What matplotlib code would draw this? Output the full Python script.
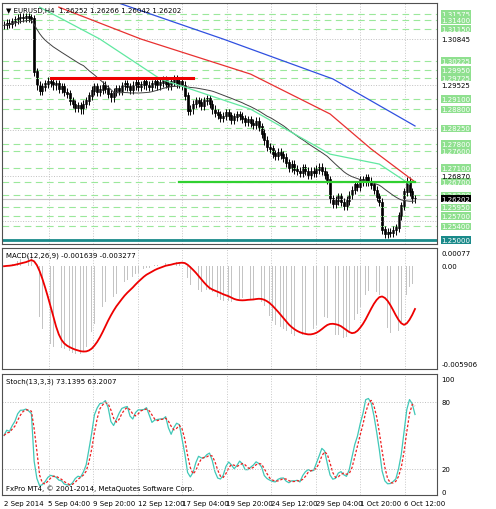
import matplotlib.pyplot as plt
import numpy as np
import pandas as pd

# H4 closes, EURUSD
closes = [1.3125, 1.3130, 1.3128, 1.3135, 1.3140, 1.3145, 1.3148, 1.3146, 1.3150, 1.3147, 1.3144,
          1.2990, 1.2950, 1.2935, 1.2945, 1.2955, 1.2962, 1.2958, 1.2950, 1.2955, 1.2940, 1.2945, 1.2930, 1.2925,
          1.2905, 1.2895, 1.2885, 1.2890, 1.2880, 1.2895, 1.2905,
          1.2920, 1.2935, 1.2945, 1.2930, 1.2938, 1.2950, 1.2940, 1.2925, 1.2915, 1.2930,
          1.2940, 1.2935, 1.2948, 1.2955, 1.2945, 1.2938, 1.2950, 1.2958, 1.2945, 1.2952, 1.2960, 1.2950,
          1.2945, 1.2955, 1.2962, 1.2950, 1.2958, 1.2965, 1.2955, 1.2948, 1.2960, 1.2968, 1.2955, 1.2960, 1.2950,
          1.2920, 1.2875,
          1.2880, 1.2895, 1.2905, 1.2900, 1.2890, 1.2905, 1.2910, 1.2895, 1.2880, 1.2870, 1.2865, 1.2855, 1.2860,
          1.2870, 1.2862, 1.2850, 1.2858, 1.2865, 1.2860, 1.2852, 1.2845, 1.2850, 1.2840, 1.2835, 1.2845, 1.2830, 1.2810,
          1.2790, 1.2770, 1.2765, 1.2750, 1.2745, 1.2755, 1.2748,
          1.2740, 1.2725, 1.2710, 1.2720, 1.2705, 1.2700, 1.2695, 1.2710, 1.2700, 1.2690,
          1.2700, 1.2695, 1.2705, 1.2712, 1.2700, 1.2690, 1.2675,
          1.2620, 1.2605, 1.2615, 1.2625, 1.2610, 1.2600, 1.2615, 1.2630,
          1.2645, 1.2660, 1.2655, 1.2675, 1.2668, 1.2680, 1.2670, 1.2660,
          1.2645, 1.2625, 1.2610, 1.2530,
          1.2518, 1.2522, 1.2520, 1.2528, 1.2535, 1.2570,
          1.2600, 1.2640, 1.2670, 1.2640, 1.2620, 1.26202]

# long moving averages (bar index, price)
blue_ma = [(40, 1.3195), (80, 1.3085), (120, 1.2969), (150, 1.2832)]
red_ma = [(20, 1.3178), (50, 1.3085), (90, 1.2983), (119, 1.2867), (134, 1.2765), (150, 1.2669)]
green_ma = [(13, 1.3178), (35, 1.3085), (57, 1.2969), (90, 1.2881), (119, 1.2750), (137, 1.2721), (148, 1.2663)]

green_levels = [1.31575, 1.31400, 1.31150, 1.30225, 1.29950, 1.29725, 1.29100, 1.28800, 1.28250,
                1.27800, 1.27600, 1.27100, 1.26700, 1.26300, 1.25950, 1.25700, 1.25400]
grid_levels = [1.30845, 1.29525, 1.28205, 1.26870, 1.25550]
grid_labels = [1.30845, 1.29525, 1.26870]
date_labels = ['2 Sep 2014', '5 Sep 04:00', '9 Sep 20:00', '12 Sep 12:00', '17 Sep 04:00',
               '19 Sep 20:00', '24 Sep 12:00', '29 Sep 04:00', '1 Oct 20:00', '6 Oct 12:00']

W, H = 496, 510
PX = 411 / 150  # pixels per bar

def px(i):
    return 4 + i * PX

c = pd.Series(closes)
o = c.shift(1).fillna(c.iloc[0])
hi = np.maximum(o, c) + 0.0012
lo = np.minimum(o, c) - 0.0012
xs = np.array([px(i) for i in range(len(c))])

fig = plt.figure(figsize=(W / 100, H / 100), dpi=100)

def axes(top, bot):
    return fig.add_axes([2 / W, 1 - bot / H, 435 / W, (bot - top) / H])

fs = 5
ax = axes(4, 245)
ax.set_xlim(2, 437)
ax.set_ylim(1.24884, 1.3190)
for lv in green_levels:
    ax.axhline(lv, color='#9be89b', lw=0.8, ls=(0, (6, 4)))
    ax.text(1.01, lv, f'{lv:.5f}', transform=ax.get_yaxis_transform(), fontsize=fs, color='white',
            va='center', bbox=dict(boxstyle='square,pad=0.1', fc='#8fe08f', ec='none'))
for lv in grid_levels:
    ax.axhline(lv, color='#c0c0c0', lw=0.7, ls=':')
for lv in grid_labels:
    ax.text(1.01, lv, f'{lv:.5f}', transform=ax.get_yaxis_transform(), fontsize=fs, va='center')
ax.axhline(1.25, color='#1a8a8a', lw=2)
ax.text(1.01, 1.25, '1.25000', transform=ax.get_yaxis_transform(), fontsize=fs, color='white',
        va='center', bbox=dict(boxstyle='square,pad=0.1', fc='#1a8a8a', ec='none'))
ax.axhline(closes[-1], color='#c8c8c8', lw=0.8)
ax.text(1.01, closes[-1], f'{closes[-1]:.5f}', transform=ax.get_yaxis_transform(), fontsize=fs,
        color='white', va='center', bbox=dict(boxstyle='square,pad=0.1', fc='black', ec='none'))

ax.vlines(xs, lo, hi, color='black', lw=0.7)
up = c >= o
ax.bar(xs[up], (c - o)[up].abs() + 0.0002, bottom=o[up], width=2, color='white', edgecolor='black', lw=0.5)
ax.bar(xs[~up], (o - c)[~up].abs() + 0.0002, bottom=c[~up], width=2, color='black', edgecolor='black', lw=0.5)

ax.plot(xs, c.rolling(30, min_periods=1).mean(), color='#404040', lw=0.7)
for pts, col in [(blue_ma, '#3050e0'), (red_ma, '#e83030'), (green_ma, '#60e8a0')]:
    ax.plot([px(b) for b, _ in pts], [p for _, p in pts], color=col, lw=0.9)
ax.plot([px(17), px(69)], [1.2971, 1.2971], color='#ee0000', lw=2.2)
ax.plot([px(64), px(150)], [1.2668, 1.2668], color='#30d030', lw=1.6)
ax.text(0.01, 0.985, '\u25bc EURUSD,H4  1.26252 1.26266 1.26042 1.26202', transform=ax.transAxes,
        fontsize=fs, va='top')

# MACD
ema12 = c.ewm(span=12, adjust=False).mean()
ema26 = c.ewm(span=26, adjust=False).mean()
macd = ema12 - ema26
sig = macd.rolling(9, min_periods=1).mean()
am = axes(249, 370)
am.set_xlim(2, 437)
am.set_ylim(-0.0062, 0.0011)
am.bar(xs, macd, width=0.6, color='#c4c4c4')
am.plot(xs, sig, color='#ee0000', lw=1.3)
for v, t in [(0.00077, '0.00077'), (0.0, '0.00'), (-0.005906, '-0.005906')]:
    am.text(1.01, v, t, transform=am.get_yaxis_transform(), fontsize=fs, va='center')
am.text(0.01, 0.97, 'MACD(12,26,9) -0.001639 -0.003277', transform=am.transAxes, fontsize=fs, va='top')

# Stochastic
hh = pd.Series(hi).rolling(13, min_periods=1).max()
ll = pd.Series(lo).rolling(13, min_periods=1).min()
k = (c - ll).rolling(3, min_periods=1).sum() / (hh - ll).rolling(3, min_periods=1).sum() * 100
d = k.rolling(3, min_periods=1).mean()
st = axes(375, 496)
st.set_xlim(2, 437)
st.set_ylim(-2.6, 104.4)
st.plot(xs, k, color='#40c8b8', lw=0.9)
st.plot(xs, d, color='#ee2020', lw=0.9, ls=(0, (2, 1.5)))
for v in [100, 80, 20, 0]:
    st.text(1.01, v, str(v), transform=st.get_yaxis_transform(), fontsize=fs, va='center')
    if v in (80, 20):
        st.axhline(v, color='#c0c0c0', lw=0.7, ls=':')
st.text(0.01, 0.97, 'Stoch(13,3,3) 73.1395 63.2007', transform=st.transAxes, fontsize=fs, va='top')
st.text(0.01, 0.03, 'FxPro MT4, \u00a9 2001-2014, MetaQuotes Software Corp.', transform=st.transAxes,
        fontsize=fs, va='bottom')

tick_px = [4 + 44.5 * j for j in range(len(date_labels))]
for a in (ax, am, st):
    a.set_xticks([])
    a.set_yticks([])
    for sp in a.spines.values():
        sp.set_color('#505050')
        sp.set_linewidth(0.8)
    for t in tick_px[1:]:
        a.axvline(t, color='#c8c8c8', lw=0.7, ls=':', zorder=0)
for t, lab in zip(tick_px, date_labels):
    fig.text(t / W, 1 - 504 / H, lab, fontsize=fs, va='center')

fig.savefig('out.png', dpi=100, facecolor='white')
